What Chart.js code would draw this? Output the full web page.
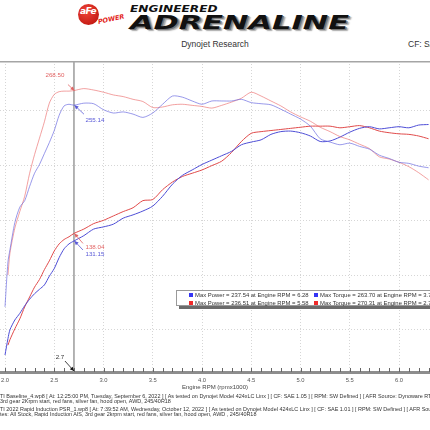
<!DOCTYPE html>
<html>
<head>
<meta charset="utf-8">
<script src="https://cdn.jsdelivr.net/npm/chart.js@4.4.1/dist/chart.umd.min.js"></script>
<style>
	html, body { margin: 0; padding: 0; width: 430px; height: 430px; overflow: hidden; background: #fff; }
	body { position: relative; font-family: "Liberation Sans", Arial, sans-serif; color: #333; }
	.abs { position: absolute; white-space: nowrap; }

	/* header */
	#logo-circle { left: 78px; top: 4px; width: 21px; height: 21px; border-radius: 50%;
		background: radial-gradient(circle at 40% 35%, #f0463a, #c81e16 70%, #8e1410); }
	#logo-afe { left: 78px; top: 6px; width: 20px; text-align: center; color: #fff; font: italic bold 9px "DejaVu Sans", sans-serif; letter-spacing: -0.5px; }
	#logo-power { left: 98px; top: 18px; color: #e3261c; font: italic bold 6.5px "DejaVu Sans", sans-serif; transform: rotate(-12deg); transform-origin: left center; }
	#eng { left: 130px; top: 3px; font: italic bold 9.5px "DejaVu Sans", sans-serif; color: #111; transform: scaleX(1.28); transform-origin: left top; }
	#adr { left: 130px; top: 11px; font: italic bold 19.5px "DejaVu Sans", sans-serif; color: #111;
		transform: scaleX(1.56); transform-origin: left top; text-shadow: 1px 1px 0 #777, 2px 2px 1px #aaa; }
	#title { left: 0; width: 430px; top: 39px; text-align: center; font-size: 8.5px; color: #333; }
	#cf { left: 408px; top: 39px; font-size: 8.5px; color: #333; }

	/* chart */
	#plot { position: absolute; left: 0; top: 61px; width: 430px; height: 337px; }

	/* legend box */
	#legend { left: 176px; top: 290px; width: 270px; height: 14px; border: 1px solid #9a9a9a; background: #fff;
		box-shadow: 3px 3px 0 #6b6b6b; font-size: 5.9px; color: #333; }
	#legend .sq { position: absolute; width: 4px; height: 4px; }
	#legend .tx { position: absolute; white-space: nowrap; }

	/* footer */
	.foot { left: 0; font-size: 5.45px; color: #333; }
</style>
</head>
<body>
	<div class="abs" id="logo-circle"></div>
	<div class="abs" id="logo-afe">aFe</div>
	<div class="abs" id="logo-power">POWER</div>
	<div class="abs" id="eng">ENGINEERED</div>
	<div class="abs" id="adr">ADRENALINE</div>
	<div class="abs" id="title">Dynojet Research</div>
	<div class="abs" id="cf">CF: SAE</div>

	<div id="plot"><canvas id="chart-dyno"></canvas></div>

	<div class="abs" id="legend"></div>
	<div id="footer"></div>

<script>
// Engine RPM (rpm x 1000) shared by all four runs
const RPM = [2.0, 2.03, 2.05, 2.1, 2.15, 2.2, 2.25, 2.3, 2.35, 2.4, 2.45, 2.5, 2.55, 2.6, 2.65, 2.7,
	2.8, 2.9, 3.0, 3.1, 3.2, 3.3, 3.4, 3.5, 3.6, 3.7, 3.8, 3.9, 4.0, 4.1, 4.2, 4.3, 4.4, 4.5,
	4.6, 4.7, 4.8, 4.9, 5.0, 5.1, 5.2, 5.3, 5.4, 5.5, 5.6, 5.7, 5.8, 5.9, 6.0, 6.1, 6.2, 6.3];

// Baseline run (blue)
const BASE_TORQUE = [71, 112, 123, 148, 162, 168, 181, 193, 201, 211, 221, 232, 246, 254.5, 256, 255.14,
	257, 256.5, 251, 248, 249, 247, 244, 248, 256, 263.5, 262.5, 259, 256, 259, 259, 259, 260.5, 257.5,
	256.5, 255.5, 251.5, 247, 242.5, 236, 224.5, 221.5, 219, 220.5, 217.5, 215, 209.5, 206.5, 203, 202, 199.5, 198];
const BASE_POWER = [27, 42, 50, 59, 65, 72, 78, 83, 87, 91, 99, 106, 116, 124, 128.5, 131.15,
	136, 142, 144, 146.5, 152, 155, 158.5, 163, 172, 183, 191, 196, 201, 205, 209, 213, 219, 221.5,
	223.5, 228.5, 231, 231.5, 230, 227, 222, 222.5, 226, 230.5, 234, 235.5, 233.5, 234.5, 235.5, 234.5, 237, 237.5];

// Rapid Induction run (red)
const RI_TORQUE = [null, 100, 120, 143, 158, 172, 193, 210, 225, 240, 257, 265, 267.5, 268, 268, 268.5,
	270.3, 269, 267, 264.5, 263, 260.5, 258.5, 253, 253.5, 255.5, 256, 255, 254, 252.5, 255, 258, 261.5, 267,
	263.5, 259, 254.5, 249, 244.5, 240.5, 235, 231, 226.5, 223.5, 219.5, 215.5, 208, 206, 203, 199, 193.5, 187];
const RI_POWER = [null, 36, 41, 51, 60, 71, 80, 89, 96, 105, 113, 122, 128.5, 132.5, 135, 138.04,
	142, 147, 150, 154, 158, 161.5, 168, 169, 178, 185, 190, 193, 196, 200, 204, 212, 222, 229.5,
	231, 232, 233, 234, 235, 236, 236, 236, 234.5, 235.5, 236.5, 234.5, 231.5, 230, 229, 228.5, 227, 224.5];

const X_LABELS = ["2.0", "2.5", "3.0", "3.5", "4.0", "4.5", "5.0", "5.5", "6.0"];
const Y_GRID = [50, 100, 150, 200, 250];
const CURSOR_RPM = 2.7;

const LEGEND_ROWS = [
	["Max Power = 237.54 at Engine RPM = 6.28", "Max Torque = 263.70 at Engine RPM = 3.7"],
	["Max Power = 236.51 at Engine RPM = 5.58", "Max Torque = 270.31 at Engine RPM = 2.7"],
];
const FOOTER_LINES = [
	"TI Baseline_4.wp8 [ At: 12:25:00 PM, Tuesday, September 6, 2022 ] [ As tested on Dynojet Model 424xLC Linx ] [ CF: SAE 1.05 ] [ RPM: SW Defined ] [ AFR Source: Dynoware RT",
	"3rd gear 2Krpm start, red fans, silver fan, hood open, AWD, 245/40R18",
	"TI 2022 Rapid Induction PSR_1.wp8 [ At: 7:39:52 AM, Wednesday, October 12, 2022 ] [ As tested on Dynojet Model 424xLC Linx ] [ CF: SAE 1.01 ] [ RPM: SW Defined ] [ AFR Sou",
	"tes: All Stock, Rapid Induction AIS, 3rd gear 2krpm start, red fans, silver fan, hood open, AWD , 245/40R18",
];

const BLUE = "#4d4dd6";
const RED = "#e04a4a";
const BLUE_LIGHT = "rgba(110, 110, 225, 0.7)";
const RED_LIGHT = "rgba(235, 110, 110, 0.65)";

//---------------------------------------------------------
// Legend + footer (plain text)
//---------------------------------------------------------
const legendEl = document.getElementById("legend");
const legendColors = ["#3535f5", "#f02a2a"];
LEGEND_ROWS.forEach((row, r) => {
	const top = 2 + r * 8;
	[[12, 18], [137, 143]].forEach(([sqLeft, txLeft], c) => {
		legendEl.insertAdjacentHTML("beforeend",
			`<span class="sq" style="left:${sqLeft}px;top:${top}px;background:${legendColors[r]}"></span>` +
			`<span class="tx" style="left:${txLeft}px;top:${top - 1.5}px">${row[c]}</span>`);
	});
});

const footerEl = document.getElementById("footer");
const footerTops = [392.5, 398, 405.5, 411];
FOOTER_LINES.forEach((line, i) => {
	footerEl.insertAdjacentHTML("beforeend", `<div class="abs foot" style="top:${footerTops[i]}px">${line}</div>`);
});

//---------------------------------------------------------
// Chart
//---------------------------------------------------------
const series = (values) => RPM.map((r, i) => ({ x: r, y: values[i] }));

const lineStyle = (color) => ({
	borderColor: color,
	borderWidth: 1,
	tension: 0.25,
	pointRadius: 0,
	fill: false,
	spanGaps: false,
});

// Draws the cursor, the frame line, small rpm ticks and the cursor readouts
const dynoOverlay = {
	id: "dynoOverlay",
	beforeDatasetsDraw(chart) {
		const { ctx, chartArea, scales: { x } } = chart;
		const cx = x.getPixelForValue(CURSOR_RPM);
		ctx.save();
		ctx.strokeStyle = "#9b9b9b";
		ctx.lineWidth = 1.5;
		ctx.beginPath();
		ctx.moveTo(cx, chartArea.top);
		ctx.lineTo(cx, chartArea.bottom);
		ctx.stroke();
		ctx.restore();
	},
	afterDraw(chart) {
		const { ctx, chartArea, scales: { x, y } } = chart;
		ctx.save();

		// top frame
		ctx.strokeStyle = "#a5a5a5";
		ctx.lineWidth = 1.5;
		ctx.beginPath();
		ctx.moveTo(chartArea.left, chartArea.top + 0.75);
		ctx.lineTo(chartArea.right, chartArea.top + 0.75);
		ctx.stroke();

		// minor ticks every 0.1 rpm, sitting on the axis bar
		ctx.strokeStyle = "#666";
		ctx.lineWidth = 1;
		for (let v = 2.0; v <= x.max + 1e-6; v += 0.1) {
			const px = Math.round(x.getPixelForValue(v)) + 0.5;
			ctx.beginPath();
			ctx.moveTo(px, chartArea.bottom - 4);
			ctx.lineTo(px, chartArea.bottom);
			ctx.stroke();
		}

		// cursor readouts
		const idx = RPM.indexOf(CURSOR_RPM);
		const cx = x.getPixelForValue(CURSOR_RPM);
		const marks = [
			{ value: RI_TORQUE[idx], color: "#e26464", text: [-19, -15], tail: [-6, -6] },
			{ value: BASE_TORQUE[idx], color: "#5a5ad8", text: [21, 15], tail: [10, 9] },
			{ value: RI_POWER[idx], color: "#e26464", text: [21, 13.5], tail: [9, 10] },
			{ value: BASE_POWER[idx], color: "#5a5ad8", text: [21, 13.5], tail: [9, 9] },
		];
		const arrow = (px, py, tx, ty, color) => {
			const ang = Math.atan2(py - ty, px - tx);
			ctx.strokeStyle = color;
			ctx.fillStyle = color;
			ctx.lineWidth = 0.8;
			ctx.beginPath();
			ctx.moveTo(tx, ty);
			ctx.lineTo(px, py);
			ctx.stroke();
			ctx.beginPath();
			ctx.moveTo(px, py);
			ctx.lineTo(px - 4.5 * Math.cos(ang - 0.45), py - 4.5 * Math.sin(ang - 0.45));
			ctx.lineTo(px - 4.5 * Math.cos(ang + 0.45), py - 4.5 * Math.sin(ang + 0.45));
			ctx.closePath();
			ctx.fill();
		};
		ctx.font = "6.2px 'Liberation Sans', Arial, sans-serif";
		ctx.textAlign = "center";
		ctx.textBaseline = "middle";
		marks.forEach((m) => {
			const py = y.getPixelForValue(m.value);
			arrow(cx + 0.5, py, cx + m.tail[0], py + m.tail[1], m.color);
			ctx.fillStyle = m.color;
			ctx.fillText(m.value.toFixed(2), cx + m.text[0], py + m.text[1]);
		});

		// rpm readout on the axis
		const by = chartArea.bottom;
		arrow(cx, by - 1, cx - 9, by - 11, "#111");
		ctx.fillStyle = "#333";
		ctx.fillText(String(CURSOR_RPM), cx - 14, by - 15);

		ctx.restore();
	},
};

const CHART_DATA = {
	datasets: [
		{ label: "Baseline Torque", data: series(BASE_TORQUE), ...lineStyle(BLUE_LIGHT) },
		{ label: "Rapid Induction Torque", data: series(RI_TORQUE), ...lineStyle(RED_LIGHT) },
		{ label: "Baseline Power", data: series(BASE_POWER), ...lineStyle(BLUE) },
		{ label: "Rapid Induction Power", data: series(RI_POWER), ...lineStyle(RED) },
	],
};

const CHART_CONFIG = {
	type: "line",
	data: CHART_DATA,
	options: {
		responsive: true,
		maintainAspectRatio: false,
		animation: false,
		layout: { padding: 0 },
		scales: {
			x: {
				type: "linear",
				min: 1.9492,
				max: 6.3147,
				afterBuildTicks: (scale) => {
					scale.ticks = X_LABELS.map((l) => ({ value: Number(l) }));
				},
				afterFit: (scale) => {
					scale.height = 26;
					scale.paddingLeft = 0;
					scale.paddingRight = 0;
				},
				border: { display: true, color: "#8d8d8d", width: 3, dash: [1, 2] },
				grid: { color: "#d6d6d6", lineWidth: 1, drawTicks: false },
				ticks: {
					autoSkip: false,
					maxRotation: 0,
					padding: 5,
					color: "#555",
					font: { family: "'Liberation Sans', Arial, sans-serif", size: 5.8 },
					callback: (value) => Number(value).toFixed(1),
				},
				title: {
					display: true,
					text: "Engine RPM (rpmx1000)",
					color: "#444",
					font: { family: "'Liberation Sans', Arial, sans-serif", size: 6 },
					padding: { top: 0, bottom: 7 },
				},
			},
			y: {
				min: 11.5,
				max: 295.5,
				afterBuildTicks: (scale) => {
					scale.ticks = Y_GRID.map((v) => ({ value: v }));
				},
				afterFit: (scale) => {
					scale.width = 0;
					scale.paddingTop = 0;
					scale.paddingBottom = 0;
				},
				border: { display: false, dash: [1, 2] },
				grid: { color: "#d6d6d6", lineWidth: 1, drawTicks: false },
				ticks: { display: false },
			},
		},
		plugins: {
			legend: { display: false },
			tooltip: { enabled: false },
		},
	},
	plugins: [dynoOverlay],
};

new Chart(document.getElementById("chart-dyno"), CHART_CONFIG);
</script>
</body>
</html>
